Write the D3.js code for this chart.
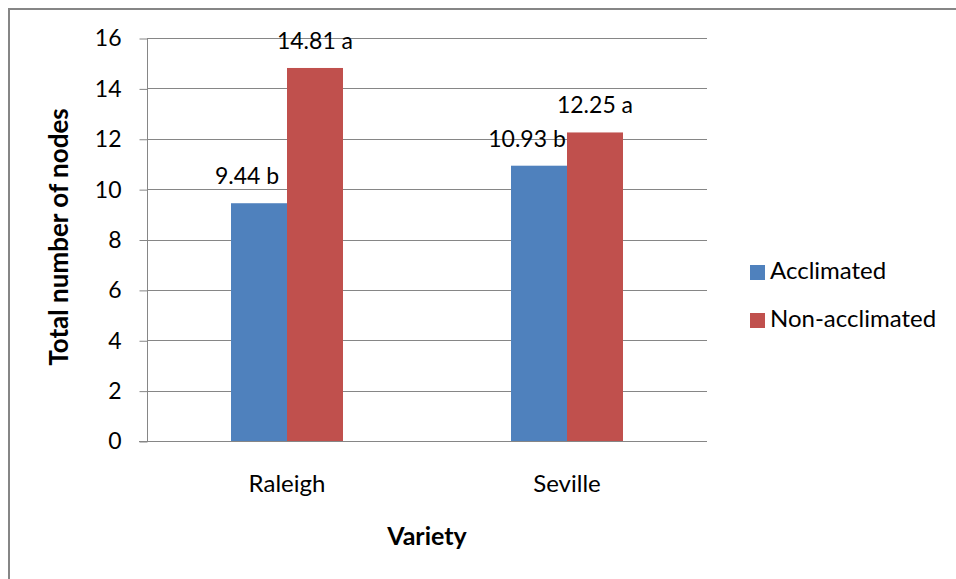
<!DOCTYPE html>
<html>
<head>
<meta charset="utf-8">
<script src="https://cdn.jsdelivr.net/npm/d3@7/dist/d3.min.js"></script>
<style>
  html, body { margin: 0; padding: 0; background: #fff; }
  svg { display: block; }
  text { font-family: Lato, "Open Sans", sans-serif; fill: #000; }
</style>
</head>
<body>
<svg id="chart" width="956" height="579"></svg>
<script>
// Data
const varieties = ["Raleigh", "Seville"];
const seriesNames = ["Acclimated", "Non-acclimated"];
const acclimated = [9.44, 10.93];
const nonAcclimated = [14.81, 12.25];
const acclimatedLetters = ["b", "b"];
const nonAcclimatedLetters = ["a", "a"];
const yTicks = [0, 2, 4, 6, 8, 10, 12, 14, 16];
const colors = ["#4F81BD", "#C0504D"];

const svg = d3.select("#chart");
const W = 956, H = 579;
const plot = { left: 147, right: 707, top: 38, bottom: 441 };

// Outer frame
svg.append("rect")
  .attr("x", 9).attr("y", 9)
  .attr("width", W + 20).attr("height", H + 20)
  .attr("fill", "none").attr("stroke", "#868686").attr("stroke-width", 2);

const x0 = d3.scaleBand().domain(varieties).range([plot.left, plot.right]).paddingInner(0).paddingOuter(0);
const x1 = d3.scaleBand().domain(seriesNames).range([0, x0.bandwidth()]).paddingInner(0).paddingOuter(1.5);
const y = d3.scaleLinear().domain([0, 16]).range([plot.bottom, plot.top]);

// Horizontal gridlines
svg.append("g").selectAll("line").data(yTicks.filter(t => t > 0)).join("line")
  .attr("x1", plot.left).attr("x2", plot.right)
  .attr("y1", d => Math.round(y(d)) + 0.5).attr("y2", d => Math.round(y(d)) + 0.5)
  .attr("stroke", "#868686").attr("stroke-width", 1);

// Y axis
const yAxis = svg.append("g")
  .attr("transform", `translate(${plot.left + 0.5},0.5)`)
  .call(d3.axisLeft(y).tickValues(yTicks).tickSize(8).tickPadding(18).tickFormat(d3.format("d")));
yAxis.select(".domain").attr("stroke", "#868686").attr("d", `M0,${plot.top}V${plot.bottom}`);
yAxis.selectAll(".tick line").attr("stroke", "#868686");
yAxis.selectAll(".tick text")
  .style("font-family", "Lato, 'Open Sans', sans-serif").style("font-size", "23px").attr("fill", "#000");

// Bars
const rows = varieties.map((v, i) => ({
  variety: v,
  values: [
    { name: seriesNames[0], value: acclimated[i], letter: acclimatedLetters[i], color: colors[0] },
    { name: seriesNames[1], value: nonAcclimated[i], letter: nonAcclimatedLetters[i], color: colors[1] }
  ]
}));

const groups = svg.append("g").selectAll("g").data(rows).join("g")
  .attr("transform", d => `translate(${x0(d.variety)},0)`);

groups.selectAll("rect").data(d => d.values).join("rect")
  .attr("x", d => x1(d.name))
  .attr("width", x1.bandwidth())
  .attr("y", d => y(d.value))
  .attr("height", d => y(0) - y(d.value))
  .attr("fill", d => d.color);

// Value labels; acclimated labels are pushed left to clear the taller neighbour
groups.selectAll("text.val").data(d => d.values).join("text")
  .attr("class", "val")
  .attr("x", (v, si) => x1(v.name) + x1.bandwidth() / 2 + (si === 0 ? -12 : 0))
  .attr("y", v => y(v.value) - 19)
  .attr("text-anchor", "middle")
  .style("font-size", "23px")
  .text(v => `${v.value.toFixed(2)} ${v.letter}`);

// Zero line (category axis)
svg.append("line")
  .attr("x1", plot.left - 8).attr("x2", plot.right)
  .attr("y1", plot.bottom + 0.5).attr("y2", plot.bottom + 0.5)
  .attr("stroke", "#868686").attr("stroke-width", 1);

// Category labels
svg.append("g").selectAll("text").data(varieties).join("text")
  .attr("x", d => x0(d) + x0.bandwidth() / 2)
  .attr("y", 492)
  .attr("text-anchor", "middle")
  .style("font-size", "24px")
  .text(d => d);

// Axis titles
svg.append("text")
  .attr("x", 427).attr("y", 545)
  .attr("text-anchor", "middle")
  .style("font-size", "25px").style("font-weight", "bold")
  .text("Variety");

svg.append("text")
  .attr("transform", "translate(68,237) rotate(-90)")
  .attr("text-anchor", "middle")
  .style("font-size", "26px").style("font-weight", "bold")
  .text("Total number of nodes");

// Legend
const legend = svg.append("g").attr("transform", "translate(750,265)");
const items = legend.selectAll("g").data(seriesNames).join("g")
  .attr("transform", (d, i) => `translate(0,${i * 48})`);
items.append("rect").attr("width", 15).attr("height", 15).attr("fill", (d, i) => colors[i]);
items.append("text").attr("x", 20).attr("y", 14)
  .style("font-size", "24px")
  .text(d => d);
</script>
</body>
</html>
